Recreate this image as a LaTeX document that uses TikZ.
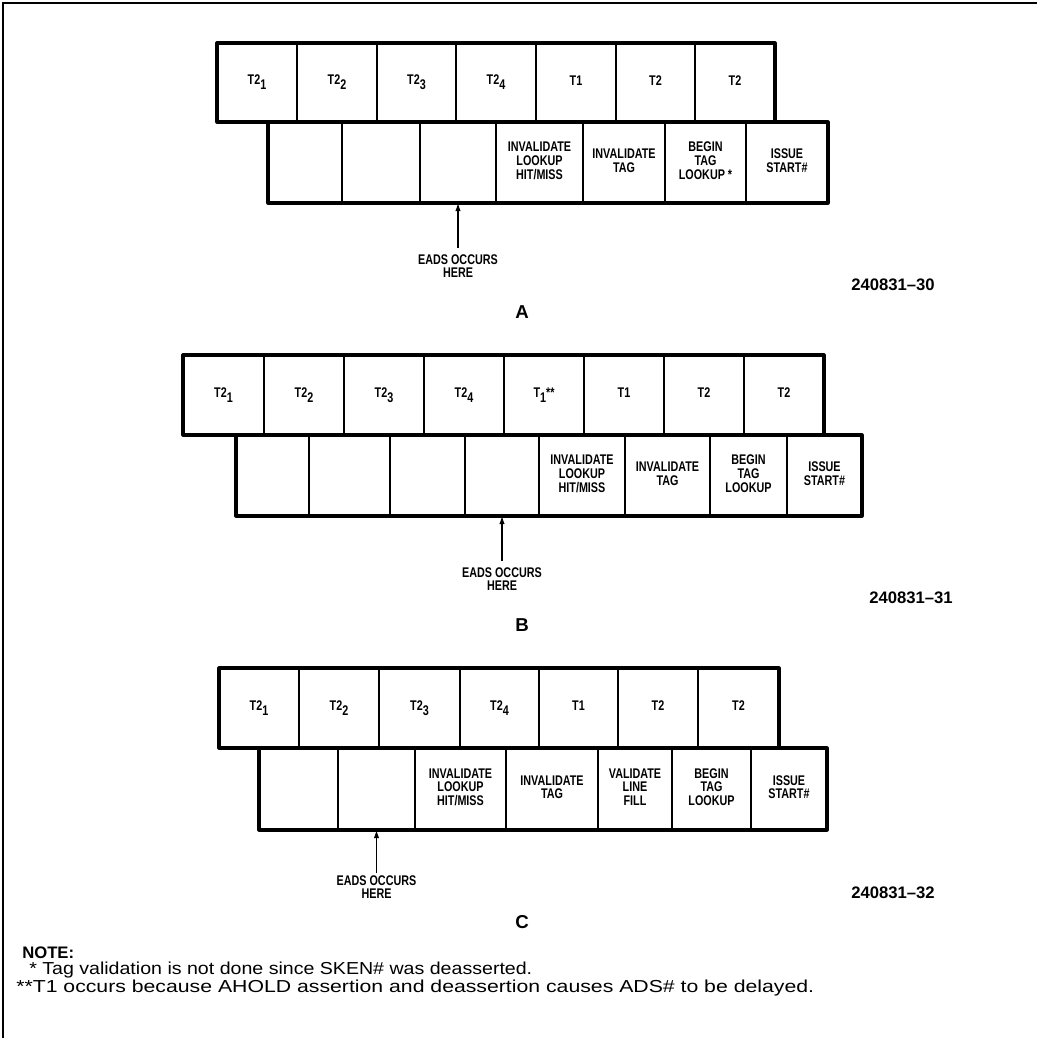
\documentclass[tikz,border=0pt]{standalone}
\usepackage{fontspec}
\setmainfont{Liberation Sans}
\usetikzlibrary{arrows.meta}
\newcommand\cellfnt{\fontsize{10.5}{9.6}\selectfont\bfseries}
\newcommand\cz[1]{\scalebox{0.77}[1]{\begin{tabular}{@{}c@{}}#1\end{tabular}}}
\newcommand\sbs[1]{\raisebox{-0.35em}{#1}}
\newcommand\cellat[6]{\node[cell, minimum width={(#3-#2)*0.75pt}, minimum height={(#5-#4)*0.75pt}] (#1) at ({(#2+#3)/2},{(#4+#5)/2}) {\cz{#6}};}
\begin{document}
\begin{tikzpicture}[x=0.75pt,y=-0.75pt,
  cell/.style={draw, line width=1.3pt, inner sep=0pt, outer sep=0pt, font=\cellfnt},
  outline/.style={line width=2.4pt, line join=round},
  arr/.style={line width=0.8pt, -{Latex[length=6pt,width=4pt]}},
  lab/.style={inner sep=0pt, font=\cellfnt},
  figid/.style={inner sep=0pt, font=\fontsize{12.5}{14}\selectfont\bfseries},
  panel/.style={inner sep=0pt, font=\fontsize{14}{16}\selectfont\bfseries},
  notehead/.style={inner sep=0pt, anchor=west, font=\fontsize{12.5}{14}\selectfont\bfseries},
  notetext/.style={inner sep=0pt, anchor=west, font=\fontsize{13}{15}\selectfont},
  frame/.style={line width=1.2pt}]
\useasboundingbox (0,0) rectangle (1037,1038);
\draw[frame] (3,1038) -- (3,3) -- (1037,3);

% ---------------- A ----------------
\cellat{at1}{217}{297}{43}{122}{T2\sbs{1}}
\cellat{at2}{297}{377}{43}{122}{T2\sbs{2}}
\cellat{at3}{377}{456}{43}{122}{T2\sbs{3}}
\cellat{at4}{456}{536}{43}{122}{T2\sbs{4}}
\cellat{at5}{536}{616}{43}{122}{T1}
\cellat{at6}{616}{695}{43}{122}{T2}
\cellat{at7}{695}{775}{43}{122}{T2}
\cellat{ab1}{268}{342}{122}{203}{}
\cellat{ab2}{342}{420}{122}{203}{}
\cellat{ab3}{420}{496}{122}{203}{}
\cellat{ab4}{496}{583}{122}{203}{INVALIDATE\\LOOKUP\\HIT/MISS}
\cellat{ab5}{583}{665}{122}{203}{INVALIDATE\\TAG}
\cellat{ab6}{665}{746}{122}{203}{BEGIN\\TAG\\LOOKUP *}
\cellat{ab7}{746}{828}{122}{203}{ISSUE\\START\#}
\draw[outline] (at1.north west) rectangle (at7.south east);
\draw[outline] (ab1.north west) rectangle (ab7.south east);
\node[lab] (eadsA) at (458,268) {\cz{EADS OCCURS\\HERE}};
\coordinate (eA) at (458,248);
\draw[arr] (eA) -- (ab3.south);
\node[figid] (idA) at (893,285) {240831\textendash 30};
\node[panel] (pA) at (522,312) {A};

% ---------------- B ----------------
\cellat{bt1}{183}{264}{355}{435}{T2\sbs{1}}
\cellat{bt2}{264}{344}{355}{435}{T2\sbs{2}}
\cellat{bt3}{344}{424}{355}{435}{T2\sbs{3}}
\cellat{bt4}{424}{504}{355}{435}{T2\sbs{4}}
\cellat{bt5}{504}{584}{355}{435}{T\sbs{1}**}
\cellat{bt6}{584}{664}{355}{435}{T1}
\cellat{bt7}{664}{744}{355}{435}{T2}
\cellat{bt8}{744}{824}{355}{435}{T2}
\cellat{bb1}{236}{309}{435}{516}{}
\cellat{bb2}{309}{390}{435}{516}{}
\cellat{bb3}{390}{465}{435}{516}{}
\cellat{bb4}{465}{539}{435}{516}{}
\cellat{bb5}{539}{625}{435}{516}{INVALIDATE\\LOOKUP\\HIT/MISS}
\cellat{bb6}{625}{710}{435}{516}{INVALIDATE\\TAG}
\cellat{bb7}{710}{787}{435}{516}{BEGIN\\TAG\\LOOKUP}
\cellat{bb8}{787}{862}{435}{516}{ISSUE\\START\#}
\draw[outline] (bt1.north west) rectangle (bt8.south east);
\draw[outline] (bb1.north west) rectangle (bb8.south east);
\node[lab] (eadsB) at (502,581) {\cz{EADS OCCURS\\HERE}};
\coordinate (eB) at (502,561);
\draw[arr] (eB) -- (bb4.south);
\node[figid] (idB) at (911,598) {240831\textendash 31};
\node[panel] (pB) at (522,625) {B};

% ---------------- C ----------------
\cellat{ct1}{219}{299}{668}{748}{T2\sbs{1}}
\cellat{ct2}{299}{379}{668}{748}{T2\sbs{2}}
\cellat{ct3}{379}{460}{668}{748}{T2\sbs{3}}
\cellat{ct4}{460}{539}{668}{748}{T2\sbs{4}}
\cellat{ct5}{539}{618}{668}{748}{T1}
\cellat{ct6}{618}{698}{668}{748}{T2}
\cellat{ct7}{698}{779}{668}{748}{T2}
\cellat{cb1}{259}{338}{748}{830}{}
\cellat{cb2}{338}{415}{748}{830}{}
\cellat{cb3}{415}{506}{748}{830}{INVALIDATE\\LOOKUP\\HIT/MISS}
\cellat{cb4}{506}{598}{748}{830}{INVALIDATE\\TAG}
\cellat{cb5}{598}{672}{748}{830}{VALIDATE\\LINE\\FILL}
\cellat{cb6}{672}{751}{748}{830}{BEGIN\\TAG\\LOOKUP}
\cellat{cb7}{751}{827}{748}{830}{ISSUE\\START\#}
\draw[outline] (ct1.north west) rectangle (ct7.south east);
\draw[outline] (cb1.north west) rectangle (cb7.south east);
\node[lab] (eadsC) at (376.5,889) {\cz{EADS OCCURS\\HERE}};
\coordinate (eC) at (376.5,873);
\draw[arr] (eC) -- (cb2.south);
\node[figid] (idC) at (893,893) {240831\textendash 32};
\node[panel] (pC) at (522,922) {C};

% ---------------- notes ----------------
\node[notehead] (nh) at (22,953) {NOTE:};
\node[notetext] (n1) at (29,970) {\scalebox{1.13}[1]{* Tag validation is not done since SKEN\# was deasserted.}};
\node[notetext] (n2) at (16,988) {\scalebox{1.225}[1]{**T1 occurs because AHOLD assertion and deassertion causes ADS\# to be delayed.}};
\end{tikzpicture}
\end{document}
